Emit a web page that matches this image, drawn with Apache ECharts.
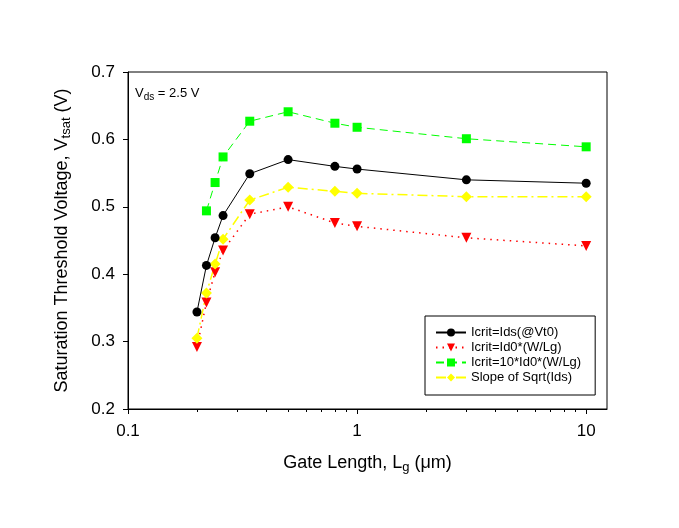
<!DOCTYPE html>
<html>
<head>
<meta charset="utf-8">
<script src="https://cdn.jsdelivr.net/npm/echarts@6/dist/echarts.min.js"></script>
<style>
html,body{margin:0;padding:0;background:#fff;}
#main{width:679px;height:528px;}
</style>
</head>
<body>
<div id="main"></div>
<script>
// Gate lengths (um)
var gateLength = [0.2, 0.22, 0.24, 0.26, 0.34, 0.5, 0.8, 1, 3, 10];
var gateLengthGreen = [0.22, 0.24, 0.26, 0.34, 0.5, 0.8, 1, 3, 10];
// Saturation threshold voltages (V)
var vIdsVt0 = [0.344, 0.413, 0.454, 0.487, 0.549, 0.570, 0.560, 0.556, 0.540, 0.535];
var vId0WLg = [0.292, 0.358, 0.403, 0.435, 0.489, 0.500, 0.476, 0.471, 0.454, 0.442];
var v10Id0WLg = [0.494, 0.536, 0.574, 0.627, 0.641, 0.624, 0.618, 0.601, 0.589];
var vSlopeSqrt = [0.305, 0.372, 0.415, 0.452, 0.510, 0.529, 0.523, 0.520, 0.515, 0.515];
// Axis ticks
var xMajorTicks = [0.1, 1, 10];
var xMinorTicks = [0.2, 0.3, 0.4, 0.5, 0.6, 0.7, 0.8, 0.9, 2, 3, 4, 5, 6, 7, 8, 9];
var seriesNames = ['Icrit=Ids(@Vt0)', 'Icrit=Id0*(W/Lg)', 'Icrit=10*Id0*(W/Lg)', 'Slope of Sqrt(Ids)'];

function pairs(xs, ys) { return xs.map(function (x, i) { return [x, ys[i]]; }); }

var FONT = "'Liberation Sans', Arial, sans-serif";
var chart = echarts.init(document.getElementById('main'), null, {renderer: 'canvas'});
var xMin = 0.1, xMax = 12.33;

chart.setOption({
  backgroundColor: '#ffffff',
  animation: false,
  grid: {left: 128, top: 72, right: 72, bottom: 119, show: true, borderColor: '#000', borderWidth: 1, backgroundColor: 'transparent'},
  xAxis: [{
    type: 'log', logBase: 10, min: xMin, max: xMax, position: 'bottom', offset: 0,
    name: 'Gate Length, L{s|g} (\u03bcm)', nameLocation: 'middle', nameGap: 43,
    nameTextStyle: {fontFamily: FONT, fontSize: 18, color: '#000',
      rich: {s: {fontFamily: FONT, fontSize: 13, color: '#000', padding: [9, 0, 0, 0]}}},
    axisLine: {show: true, onZero: false, lineStyle: {color: '#000', width: 1}},
    axisTick: {show: true, inside: false, length: 5, customValues: xMajorTicks, lineStyle: {color: '#000', width: 1}},
    axisLabel: {show: true, customValues: xMajorTicks, margin: 14, fontFamily: FONT, fontSize: 17, color: '#000',
      formatter: function (v) { return String(v); }},
    splitLine: {show: false}, minorTick: {show: false}
  }, {
    type: 'log', logBase: 10, min: xMin, max: xMax, position: 'bottom', offset: 0, gridIndex: 0,
    axisLine: {show: false, onZero: false},
    axisTick: {show: true, inside: false, length: 3, customValues: xMinorTicks, lineStyle: {color: '#000', width: 1}},
    axisLabel: {show: false},
    splitLine: {show: false}
  }],
  yAxis: {
    type: 'value', min: 0.2, max: 0.7, interval: 0.1,
    name: 'Saturation Threshold Voltage, V{s|tsat} (V)', nameLocation: 'middle', nameGap: 55,
    nameTextStyle: {fontFamily: FONT, fontSize: 18, color: '#000',
      rich: {s: {fontFamily: FONT, fontSize: 13, color: '#000', padding: [9, 0, 0, 0]}}},
    axisLine: {show: true, onZero: false, lineStyle: {color: '#000', width: 1}},
    axisTick: {show: true, inside: false, length: 5, lineStyle: {color: '#000', width: 1}},
    axisLabel: {margin: 13, fontFamily: FONT, fontSize: 17, color: '#000',
      formatter: function (v) { return v.toFixed(1); }},
    splitLine: {show: false}
  },
  legend: {
    orient: 'vertical', left: 425, top: 316,
    padding: [10, 14, 11, 10], itemWidth: 30, itemHeight: 10, itemGap: 2,
    borderColor: '#000', borderWidth: 1, backgroundColor: '#fff',
    textStyle: {fontFamily: FONT, fontSize: 13, color: '#000'},
    data: seriesNames
  },
  graphic: [{
    type: 'text', left: 135, top: 87, z: 100,
    style: {
      text: '{m|V}{s|ds}{m| = 2.5 V}',
      rich: {
        m: {fontFamily: FONT, fontSize: 13, fill: '#000', lineHeight: 16},
        s: {fontFamily: FONT, fontSize: 10, fill: '#000', padding: [7, 0, 0, 0]}
      }
    }
  }],
  series: [{
    name: seriesNames[0], type: 'line', data: pairs(gateLength, vIdsVt0),
    symbol: 'circle', symbolSize: 9, z: 4,
    itemStyle: {color: '#000'}, lineStyle: {color: '#000', width: 1, type: 'solid'}
  }, {
    name: seriesNames[1], type: 'line', data: pairs(gateLength, vId0WLg),
    symbol: 'triangle', symbolRotate: 180, symbolSize: 10, z: 3,
    itemStyle: {color: '#ff0000'}, lineStyle: {color: '#ff0000', width: 1.5, type: [1.5, 5]}
  }, {
    name: seriesNames[2], type: 'line', data: pairs(gateLengthGreen, v10Id0WLg),
    symbol: 'rect', symbolSize: 9, z: 3,
    itemStyle: {color: '#00ff00'}, lineStyle: {color: '#00ff00', width: 1, type: [8, 5]}
  }, {
    name: seriesNames[3], type: 'line', data: pairs(gateLength, vSlopeSqrt),
    symbol: 'diamond', symbolSize: 11, z: 3,
    itemStyle: {color: '#ffff00'}, lineStyle: {color: '#ffff00', width: 1.5, type: [10, 4, 2, 4]}
  }]
});
</script>
</body>
</html>
